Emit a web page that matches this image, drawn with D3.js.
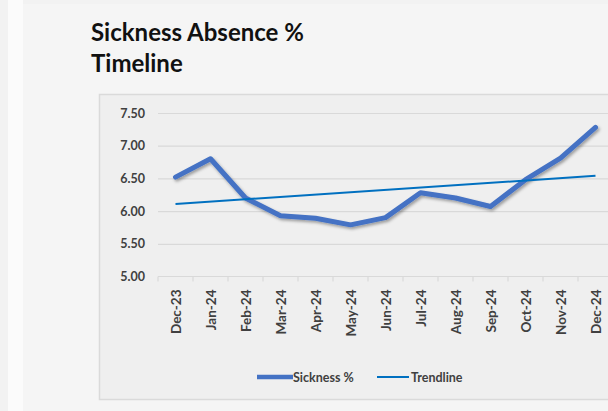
<!DOCTYPE html>
<html>
<head>
<meta charset="utf-8">
<script src="https://cdn.jsdelivr.net/npm/d3@7"></script>
<style>
  body { margin: 0; background: #f2f2f2; }
  svg { display: block; }
</style>
</head>
<body>
<div id="chart"></div>
<script>
// chart data
var months = ["Dec-23", "Jan-24", "Feb-24", "Mar-24", "Apr-24", "May-24", "Jun-24",
    "Jul-24", "Aug-24", "Sep-24", "Oct-24", "Nov-24", "Dec-24"];
var sickness = [6.52, 6.80, 6.20, 5.93, 5.89, 5.79, 5.90, 6.28, 6.20, 6.07, 6.48, 6.81, 7.28];
var trendMonths = ["Dec-23", "Dec-24"];
var trendValues = [6.11, 6.54];
var yTicks = [5.00, 5.50, 6.00, 6.50, 7.00, 7.50];

var svgWidth = 608;
var svgHeight = 411;

var margin = {
    top: 113,
    right: -5,
    left: 158,
    bottom: 134
};

var width = svgWidth - margin.left - margin.right;
var height = svgHeight - margin.top - margin.bottom;

var svg = d3.select("#chart").append("svg")
    .attr("width", svgWidth)
    .attr("height", svgHeight);

// backgrounds
svg.append("rect").attr("x", 8).attr("y", 0).attr("width", 15).attr("height", svgHeight).attr("fill", "#fbfbfb");
svg.append("rect").attr("x", 23).attr("y", 4).attr("width", svgWidth).attr("height", svgHeight).attr("fill", "#f5f5f5");
svg.append("rect").attr("x", 99.5).attr("y", 94.5).attr("width", 520).attr("height", 305)
    .attr("fill", "#efefef").attr("stroke", "#dadada").attr("stroke-width", 1.5);

// title
var title = svg.append("text")
    .attr("font-family", "Lato")
    .attr("font-weight", "bold")
    .attr("font-size", "24px")
    .attr("fill", "#111");
title.append("tspan").attr("x", 91).attr("y", 41).text("Sickness Absence %");
title.append("tspan").attr("x", 91).attr("y", 72).text("Timeline");

var chartGroup = svg.append("g")
    .attr("transform", `translate(${margin.left}, ${margin.top})`);

var xBand = d3.scaleBand().domain(months).range([0, 455]);
var xPoint = d => xBand(d) + xBand.bandwidth() / 2;

var yLinearScale = d3.scaleLinear().domain([5, 7.5]).range([163.5, 0]);

// gridlines
chartGroup.append("g")
    .call(d3.axisLeft(yLinearScale).tickValues(yTicks.slice(1)).tickSize(-width).tickFormat(""))
    .call(g => g.select(".domain").remove())
    .selectAll("line").attr("stroke", "#d9d9d9").attr("stroke-width", 1.2);

// y labels
chartGroup.append("g")
    .call(d3.axisLeft(yLinearScale).tickValues(yTicks).tickSize(0).tickPadding(13).tickFormat(d3.format(".2f")))
    .call(g => g.select(".domain").remove())
    .selectAll("text")
    .attr("font-family", "Lato")
    .attr("font-weight", "bold")
    .attr("font-size", "12.5px")
    .attr("fill", "#404040");

// x axis
var xAxis = chartGroup.append("g")
    .attr("transform", `translate(0, ${yLinearScale(5)})`);
xAxis.append("line").attr("x1", 0).attr("x2", width).attr("stroke", "#d9d9d9").attr("stroke-width", 1.2);
xAxis.selectAll(".tk").data(months).enter().append("line")
    .attr("x1", d => xBand(d)).attr("x2", d => xBand(d))
    .attr("y1", 0).attr("y2", 5)
    .attr("stroke", "#d9d9d9").attr("stroke-width", 1.2);
xAxis.selectAll(".lbl").data(months).enter().append("text")
    .attr("transform", d => `translate(${xPoint(d) + 5}, 13) rotate(-90)`)
    .attr("text-anchor", "end")
    .attr("font-family", "Lato")
    .attr("font-weight", "bold")
    .attr("font-size", "13.5px")
    .attr("fill", "#404040")
    .text(d => d);

// shadow for the main line
var defs = svg.append("defs");
var filter = defs.append("filter").attr("id", "shadow").attr("x", "-10%").attr("y", "-10%").attr("width", "120%").attr("height", "130%");
filter.append("feDropShadow").attr("dx", 1.5).attr("dy", 2).attr("stdDeviation", 1.5)
    .attr("flood-color", "#000").attr("flood-opacity", 0.35);

var line = d3.line().x((d, i) => xPoint(months[i])).y(d => yLinearScale(d));
chartGroup.append("path")
    .datum(sickness)
    .attr("d", line)
    .attr("fill", "none")
    .attr("stroke", "#4472c4")
    .attr("stroke-width", 5)
    .attr("stroke-linejoin", "round")
    .attr("stroke-linecap", "round")
    .attr("filter", "url(#shadow)");

var trendLine = d3.line().x((d, i) => xPoint(trendMonths[i])).y(d => yLinearScale(d));
chartGroup.append("path")
    .datum(trendValues)
    .attr("d", trendLine)
    .attr("fill", "none")
    .attr("stroke", "#0070c0")
    .attr("stroke-width", 2);

// legend
var legend = svg.append("g").attr("font-family", "Lato").attr("font-weight", "bold")
    .attr("font-size", "12.5px").attr("fill", "#404040");
legend.append("line").attr("x1", 257).attr("x2", 293).attr("y1", 377).attr("y2", 377)
    .attr("stroke", "#4472c4").attr("stroke-width", 4.5);
legend.append("text").attr("x", 293).attr("y", 381.5).text("Sickness %");
legend.append("line").attr("x1", 377).attr("x2", 409).attr("y1", 377).attr("y2", 377)
    .attr("stroke", "#0070c0").attr("stroke-width", 2);
legend.append("text").attr("x", 411).attr("y", 381.5).text("Trendline");
</script>
</body>
</html>
